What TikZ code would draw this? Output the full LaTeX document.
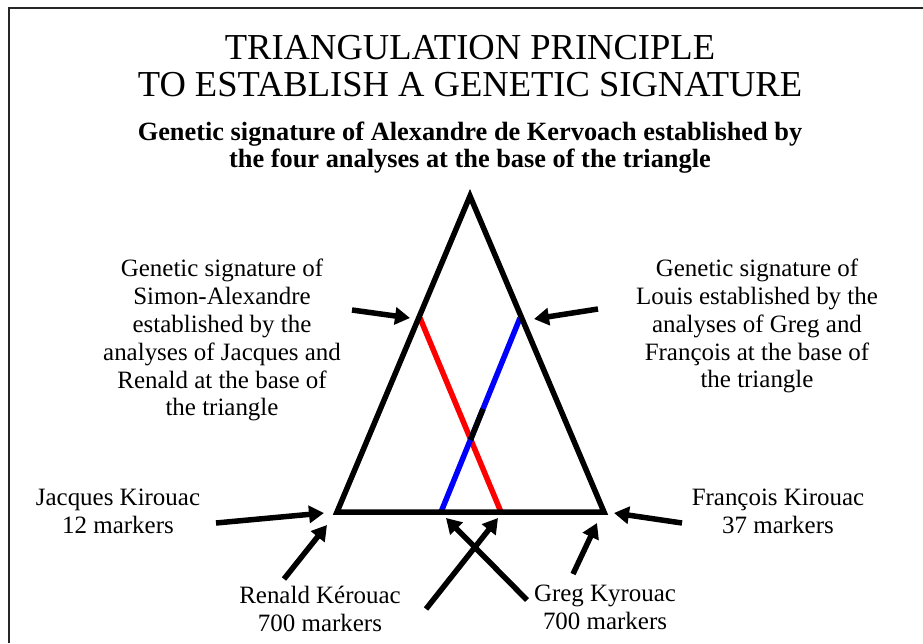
\documentclass[tikz,border=0pt]{standalone}
\usepackage{fontspec}
\setmainfont{Liberation Serif}
\usetikzlibrary{arrows.meta}

\begin{document}
\begin{tikzpicture}[
    x=0.02cm, y=-0.02cm,
    title/.style={align=center, inner sep=0pt, font=\fontsize{20.8}{21}\selectfont},
    subtitle/.style={align=center, inner sep=0pt, font=\fontsize{15}{15.4}\selectfont\bfseries},
    label/.style={align=center, inner sep=0pt, font=\fontsize{14.2}{15.9}\selectfont},
    side/.style={line width=0.11cm},
    arrow/.style={line width=0.11cm, -{Triangle[length=0.3cm,width=0.34cm]}}
  ]
    \useasboundingbox (0,0) rectangle (923,643);
    % frame, cut on the right and at the bottom
    \draw[line width=0.05cm, black!85] (9,643) |- (923,8);

    \node[title] (head) at (470,66) {TRIANGULATION PRINCIPLE\\TO ESTABLISH A GENETIC SIGNATURE};
    \node[subtitle] (sub) at (470,148) {Genetic signature of Alexandre de Kervoach established by\\the four analyses at the base of the triangle};

    % triangle
    \coordinate (top) at (470,196);
    \coordinate (bl) at (337,512);
    \coordinate (br) at (604,512);
    \coordinate (simon) at (420,318);
    \coordinate (louis) at (520,318);
    \coordinate (rbase) at (501,512);
    \coordinate (gbase) at (441,512);
    \coordinate (cross) at (470.5,440);
    \coordinate (bend) at (483,409);

    \draw[red, side] (simon) -- (rbase);
    \draw[blue, side] (gbase) -- (louis);
    \draw[side] (cross) -- (bend);
    \draw[side] (top) -- (br) -- (bl) -- cycle;

    % labels
    \node[label] (simonlbl) at (222,340) {Genetic signature of\\Simon-Alexandre\\established by the\\analyses of Jacques and\\Renald at the base of\\the triangle};
    \node[label] (louislbl) at (757,326) {Genetic signature of\\Louis established by the\\analyses of Greg and\\François at the base of\\the triangle};
    \node[label] (jacques) at (118,511) {Jacques Kirouac\\12 markers};
    \node[label] (francois) at (778,511) {François Kirouac\\37 markers};
    \node[label] (renald) at (320,609) {Renald Kérouac\\700 markers};
    \node[label] (greg) at (605,607) {Greg Kyrouac\\700 markers};

    % arrow ends
    \coordinate (simontail) at (352,310);
    \coordinate (simontip) at (410,318);
    \coordinate (louistail) at (598,309);
    \coordinate (louistip) at (534,319);
    \coordinate (jtail) at (216,523);
    \coordinate (jtip) at (324,513);
    \coordinate (ftail) at (682,523);
    \coordinate (ftip) at (614,513);
    \coordinate (rtail) at (284,579);
    \coordinate (rtip) at (327,525);
    \coordinate (rtail2) at (426,609);
    \coordinate (rtip2) at (498,518);
    \coordinate (gtail) at (527,600);
    \coordinate (gtip) at (446,518);
    \coordinate (gtail2) at (573,574);
    \coordinate (gtip2) at (597,523);

    \draw[arrow] (simontail) -- (simontip);
    \draw[arrow] (louistail) -- (louistip);
    \draw[arrow] (jtail) -- (jtip);
    \draw[arrow] (ftail) -- (ftip);
    \draw[arrow] (rtail) -- (rtip);
    \draw[arrow] (rtail2) -- (rtip2);
    \draw[arrow] (gtail) -- (gtip);
    \draw[arrow] (gtail2) -- (gtip2);
  \end{tikzpicture}
\end{document}
